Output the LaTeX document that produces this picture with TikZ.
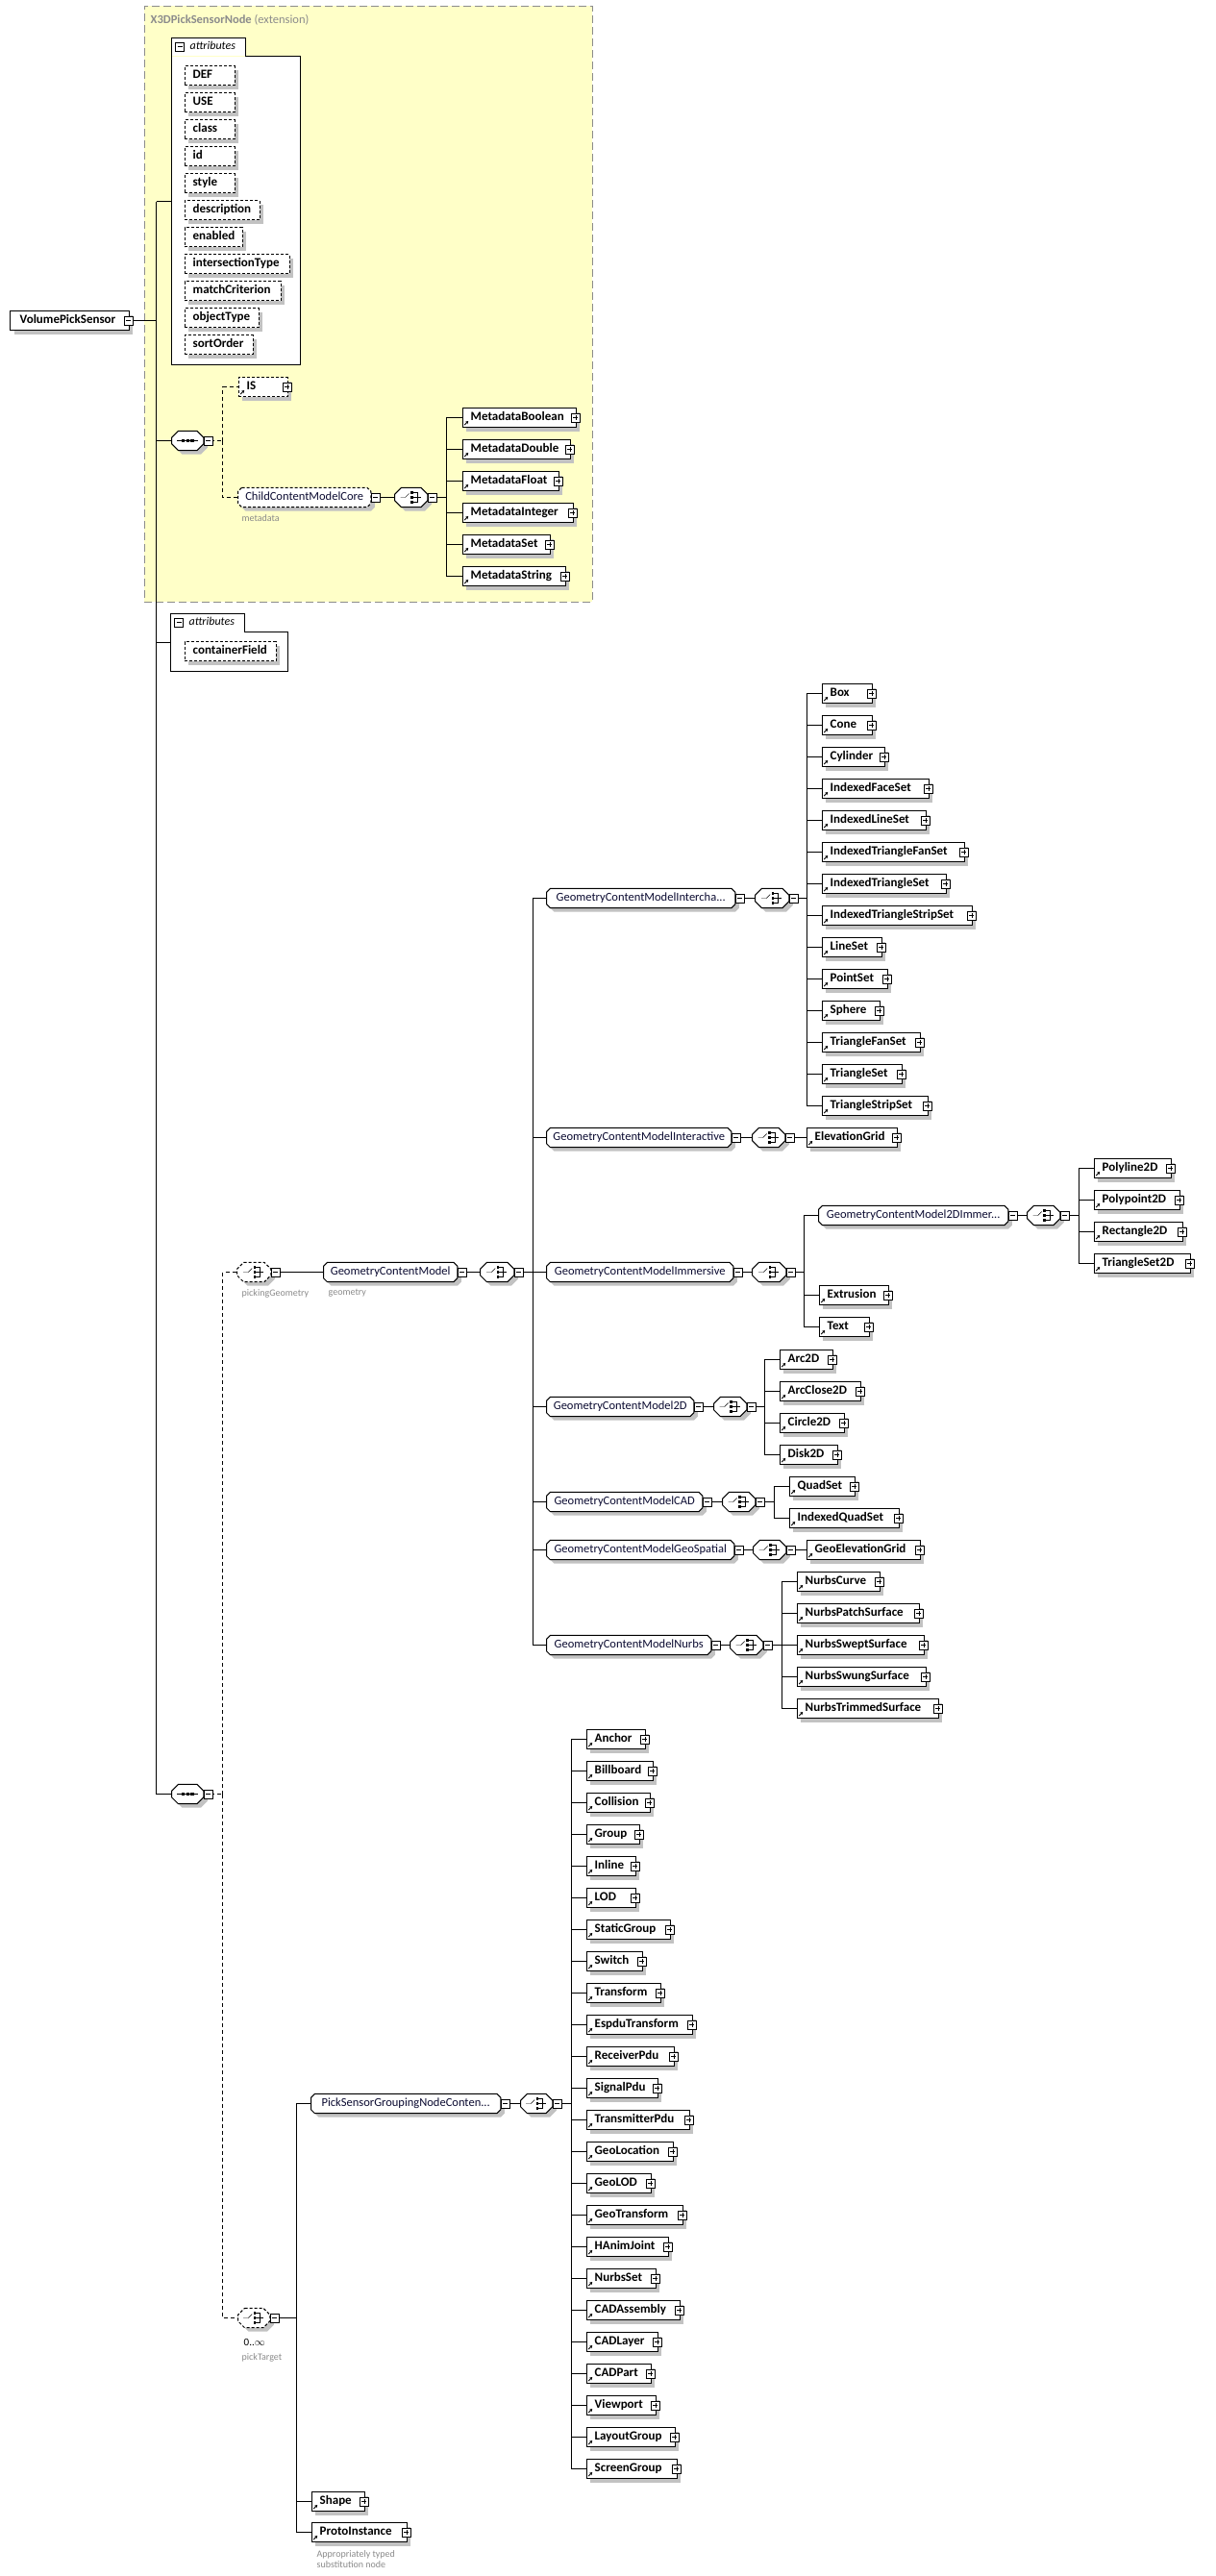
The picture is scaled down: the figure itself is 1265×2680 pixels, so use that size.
\documentclass[tikz,border=0pt]{standalone}
\usepackage{fontspec}
\setmainfont{Carlito}
\usepackage{xcolor}
\usepackage{tikz}
\usetikzlibrary{arrows.meta, positioning, shadows}

\definecolor{extfill}{HTML}{FFFFC8}
\definecolor{extline}{HTML}{8C8C8C}
\definecolor{grptext}{HTML}{0C0C32}
\definecolor{captext}{HTML}{8A8A8A}
\pgfdeclarelayer{back}
\pgfdeclarelayer{wires}
\pgfdeclarelayer{shapes}
\pgfsetlayers{back,wires,shapes,main}
\hyphenpenalty=10000
% octagon round the last node, #1 = corner cut
\newcommand\octpath[1]{([xshift=#1]\tikzlastnode.north west) -- ([xshift=-#1]\tikzlastnode.north east)
  -- ([yshift=-#1]\tikzlastnode.north east) -- ([yshift=#1]\tikzlastnode.south east)
  -- ([xshift=-#1]\tikzlastnode.south east) -- ([xshift=#1]\tikzlastnode.south west)
  -- ([yshift=#1]\tikzlastnode.south west) -- ([yshift=-#1]\tikzlastnode.north west) -- cycle}

\begin{document}
\begin{tikzpicture}[
  x=1pt, y=-1pt, line width=1pt,
  shadowed/.style={drop shadow={shadow xshift=4pt, shadow yshift=-4pt, fill=black!24, opacity=1}},
  pmbox/.style={draw, solid, fill=white, minimum size=9pt, inner sep=0pt, line width=0.8pt},
  plusbox/.style={pmbox, path picture={
    \draw[line width=0.8pt] ([xshift=2pt]path picture bounding box.west) -- ([xshift=-2pt]path picture bounding box.east);
    \draw[line width=0.8pt] ([yshift=-2pt]path picture bounding box.north) -- ([yshift=2pt]path picture bounding box.south);}},
  minusbox/.style={pmbox, path picture={
    \draw[line width=0.8pt] ([xshift=2pt]path picture bounding box.west) -- ([xshift=-2pt]path picture bounding box.east);}},
  boxtext/.style={anchor=west, inner sep=0pt, text width=#1pt, minimum height=20pt,
    text height=9pt, text depth=3pt, align=left},
  elem/.style={boxtext=#1, draw, fill=white, shadowed,
    font=\fontsize{13pt}{15pt}\selectfont\bfseries,
    execute at begin node={\hspace*{9pt}},
    path picture={\draw[solid, -{Stealth[length=3pt, width=3.5pt]}, line width=1pt]
      ([shift={(2.5pt,2.5pt)}]path picture bounding box.south west) -- ++(4pt,4pt);},
    append after command={(\tikzlastnode.east) node[plusbox] {}}},
  optelem/.style={elem=#1, dash pattern=on 3pt off 2pt},
  root/.style={boxtext=#1, draw, fill=white, shadowed,
    font=\fontsize{13pt}{15pt}\selectfont\bfseries,
    execute at begin node={\hspace*{10pt}},
    append after command={(\tikzlastnode.east) node[minusbox] {}}},
  attr/.style={boxtext=#1, draw, dash pattern=on 3pt off 2pt, fill=white, shadowed,
    font=\fontsize{13pt}{15pt}\selectfont\bfseries,
    execute at begin node={\hspace*{9pt}}},
  attrbox/.style={fill=white, anchor=north west, inner sep=0pt},
  attrtab/.style={fill=white, anchor=south west, inner sep=0pt, text width=76pt,
    minimum height=19pt, text height=9pt, text depth=3pt, align=left,
    font=\fontsize{12pt}{14pt}\selectfont\itshape,
    execute at begin node={\hspace*{19pt}},
    path picture={
      \draw[line width=0.8pt] ([shift={(4pt,-4.5pt)}]path picture bounding box.west) rectangle ++(9pt,9pt);
      \draw[line width=0.8pt] ([xshift=6pt]path picture bounding box.west) -- ++(5pt,0pt);}},
  octa/.style n args={3}{append after command={\pgfextra{
      \begin{pgfonlayer}{shapes}
        \fill[black!24, transform canvas={shift={(4pt,-4pt)}}] \octpath{#1};
        \draw[fill=white, line width=1pt, #2] \octpath{#1};
      \end{pgfonlayer}
      #3}
    (\tikzlastnode.east) node[minusbox, anchor=west] {}}},
  grpbase/.style={anchor=west, inner sep=0pt, minimum width=#1pt, minimum height=20pt,
    text height=9pt, text depth=3pt, text=grptext, font=\fontsize{12.5pt}{14pt}\selectfont},
  grp/.style={grpbase=#1, octa={4pt}{solid}{}},
  optgrp/.style={grpbase=#1, octa={4pt}{dash pattern=on 3pt off 2pt}{}},
  compbase/.style={anchor=west, inner sep=0pt, minimum width=#1pt, minimum height=20pt},
  seqbox/.style={compbase=33, octa={7pt}{solid}{\pic at (\tikzlastnode.center) {seqsym};}},
  choicebox/.style={compbase=#1, octa={7pt}{solid}{\pic at (\tikzlastnode.center) {choicesym};}},
  optchoice/.style={compbase=#1, octa={7pt}{dash pattern=on 3pt off 2pt}{\pic at (\tikzlastnode.center) {choicesym};}},
  seqsym/.pic={
    \draw (-11,0) -- (11,0);
    \fill (-6.5,-1.7) rectangle (-3.1,1.7);
    \fill (-1.7,-1.7) rectangle (1.7,1.7);
    \fill (3.1,-1.7) rectangle (6.5,1.7);},
  choicesym/.pic={
    \draw (-11,0) -- (-6,0) -- (-2,-4);
    \fill (-0.5,-6.3) rectangle (2,-3.8);
    \fill (-0.5,-1.25) rectangle (2,1.25);
    \fill (-0.5,3.8) rectangle (2,6.3);
    \draw (2,-5) -- (6,-5) -- (6,5) -- (2,5) (2,0) -- (10,0);},
  caption/.style={anchor=west, inner sep=0pt, text=captext, font=\fontsize{10pt}{11.5pt}\selectfont, align=left},
  extbox/.style={draw=extline, fill=extfill, dash pattern=on 8pt off 4pt, line width=1pt, anchor=north west, inner sep=0pt},
  optline/.style={dash pattern=on 4pt off 3pt}
]
\useasboundingbox (-0.5,-0.5) rectangle (1264.5,2679.5);

% extension frame
\begin{pgfonlayer}{back}
\node[extbox, minimum width=466pt, minimum height=620pt] (ext) at (149,5) {};
\end{pgfonlayer}
\node[anchor=west, inner sep=0pt, text=extline, font=\fontsize{12.5pt}{14pt}\selectfont] (exttitle) at (156,20) {\textbf{X3DPickSensorNode} (extension)};

% root element
\node[root=123] (root) at (10,333) {VolumePickSensor};
\coordinate (t0) at (162,209);
\coordinate (t2) at (162,668);
\coordinate (tb) at (162,1866);

% inherited attributes
\node[attrbox, minimum width=133pt, minimum height=320pt] (attrs) at (178,58) {};
\node[attrtab] (attrstab) at (attrs.north west) {attributes};
\draw (attrs.south west) -- (attrstab.north west) -- (attrstab.north east) -- (attrstab.south east)
  -- (attrs.north east) -- (attrs.south east) -- cycle;
\node[attr=52] (a-def) at (191,78) {DEF};
\node[attr=52] (a-use) at (191,106) {USE};
\node[attr=52] (a-class) at (191,134) {class};
\node[attr=52] (a-id) at (191,162) {id};
\node[attr=52] (a-style) at (191,190) {style};
\node[attr=78] (a-desc) at (191,218) {description};
\node[attr=60] (a-enabled) at (191,246) {enabled};
\node[attr=109] (a-itype) at (191,274) {intersectionType};
\node[attr=100] (a-match) at (191,302) {matchCriterion};
\node[attr=77] (a-otype) at (191,330) {objectType};
\node[attr=71] (a-sort) at (191,358) {sortOrder};

% IS / metadata
\node[seqbox] (seq1) at (178,458) {};
\coordinate (seq1-fk) at (231,458);
\node[optelem=51] (is) at (247,402) {IS};
\node[optgrp=138] (ccm) at (247,517) {ChildContentModelCore};
\node[caption] (ccm-cap) at (251,539) {metadata};
\node[choicebox=34] (ccm-ch) at (410,517) {};
\coordinate (ccm-fk) at (464,517);
\node[elem=118] (m-bool) at (480,434) {MetadataBoolean};
\node[elem=112] (m-double) at (480,467) {MetadataDouble};
\node[elem=100] (m-float) at (480,500) {MetadataFloat};
\node[elem=115] (m-int) at (480,533) {MetadataInteger};
\node[elem=91] (m-set) at (480,566) {MetadataSet};
\node[elem=107] (m-string) at (480,599) {MetadataString};

% own attributes
\node[attrbox, minimum width=121pt, minimum height=40pt] (attrs2) at (177,657) {};
\node[attrtab] (attrs2tab) at (attrs2.north west) {attributes};
\draw (attrs2.south west) -- (attrs2tab.north west) -- (attrs2tab.north east) -- (attrs2tab.south east)
  -- (attrs2.north east) -- (attrs2.south east) -- cycle;
\node[attr=95] (a-cfield) at (191,677) {containerField};

% pickingGeometry
\node[seqbox] (seq2) at (178,1866) {};
\coordinate (seq2-fk) at (231,1866);
\node[optchoice=35] (pgeo) at (246,1323) {};
\node[caption] (pgeo-cap) at (251,1345) {pickingGeometry};
\node[grp=139] (gcm) at (336,1323) {GeometryContentModel};
\node[caption] (gcm-cap) at (341,1345) {geometry};
\node[choicebox=35] (gcm-ch) at (499,1323) {};
\coordinate (gcm-fk) at (554,1323);

\node[grp=196] (g-ich) at (568,934) {GeometryContentModelIntercha...};
\node[choicebox=35] (ich-ch) at (785,934) {};
\coordinate (ich-fk) at (839,934);
\node[elem=52] (box) at (854,721) {Box};
\node[elem=52] (cone) at (854,754) {Cone};
\node[elem=65] (cylinder) at (854,787) {Cylinder};
\node[elem=111] (ifs) at (854,820) {IndexedFaceSet};
\node[elem=108] (ils) at (854,853) {IndexedLineSet};
\node[elem=148] (itfs) at (854,886) {IndexedTriangleFanSet};
\node[elem=129] (its) at (854,919) {IndexedTriangleSet};
\node[elem=156] (itss) at (854,952) {IndexedTriangleStripSet};
\node[elem=62] (lineset) at (854,985) {LineSet};
\node[elem=68] (pointset) at (854,1018) {PointSet};
\node[elem=60] (sphere) at (854,1051) {Sphere};
\node[elem=102] (tfs) at (854,1084) {TriangleFanSet};
\node[elem=83] (ts) at (854,1117) {TriangleSet};
\node[elem=110] (tss) at (854,1150) {TriangleStripSet};

\node[grp=192] (g-iact) at (568,1183) {GeometryContentModelInteractive};
\node[choicebox=34] (iact-ch) at (782,1183) {};
\node[elem=94] (elevgrid) at (838,1183) {ElevationGrid};

\node[grp=194] (g-imm) at (568,1323) {GeometryContentModelImmersive};
\node[choicebox=35] (imm-ch) at (782,1323) {};
\coordinate (imm-fk) at (836,1323);
\node[grp=197] (g-2dimm) at (851,1264) {GeometryContentModel2DImmer...};
\node[choicebox=34] (2dimm-ch) at (1068,1264) {};
\coordinate (2dimm-fk) at (1122,1264);
\node[elem=80] (polyline) at (1137,1215) {Polyline2D};
\node[elem=89] (polypoint) at (1137,1248) {Polypoint2D};
\node[elem=92] (rect2d) at (1137,1281) {Rectangle2D};
\node[elem=100] (ts2d) at (1137,1314) {TriangleSet2D};
\node[elem=72] (extrusion) at (851,1347) {Extrusion};
\node[elem=52] (textn) at (851,1380) {Text};

\node[grp=153] (g-2d) at (568,1463) {GeometryContentModel2D};
\node[choicebox=34] (2d-ch) at (742,1463) {};
\coordinate (2d-fk) at (795,1463);
\node[elem=55] (arc2d) at (810,1414) {Arc2D};
\node[elem=84] (arcclose) at (810,1447) {ArcClose2D};
\node[elem=67] (circle2d) at (810,1480) {Circle2D};
\node[elem=60] (disk2d) at (810,1513) {Disk2D};

\node[grp=162] (g-cad) at (568,1562) {GeometryContentModelCAD};
\node[choicebox=34] (cad-ch) at (751,1562) {};
\coordinate (cad-fk) at (805,1562);
\node[elem=68] (quadset) at (820,1546) {QuadSet};
\node[elem=114] (iquadset) at (820,1579) {IndexedQuadSet};

\node[grp=195] (g-geo) at (568,1612) {GeometryContentModelGeoSpatial};
\node[choicebox=34] (geo-ch) at (783,1612) {};
\node[elem=118] (geoelev) at (838,1612) {GeoElevationGrid};

\node[grp=171] (g-nurbs) at (568,1711) {GeometryContentModelNurbs};
\node[choicebox=34] (nurbs-ch) at (759,1711) {};
\coordinate (nurbs-fk) at (813,1711);
\node[elem=86] (ncurve) at (828,1645) {NurbsCurve};
\node[elem=127] (npatch) at (828,1678) {NurbsPatchSurface};
\node[elem=132] (nswept) at (828,1711) {NurbsSweptSurface};
\node[elem=134] (nswung) at (828,1744) {NurbsSwungSurface};
\node[elem=147] (ntrim) at (828,1777) {NurbsTrimmedSurface};

% pickTarget
\node[optchoice=33] (ptarget) at (247,2411) {};
\node[anchor=west, inner sep=0pt, font=\fontsize{11pt}{12pt}\selectfont] (ptarget-occ) at (253,2436) {0..$\infty$};
\node[caption] (ptarget-cap) at (251,2452) {pickTarget};
\coordinate (pt-fk) at (308,2411);
\node[grp=197] (g-psg) at (323,2188) {PickSensorGroupingNodeConten...};
\node[choicebox=33] (psg-ch) at (541,2188) {};
\coordinate (psg-fk) at (594,2188);
\node[elem=61] (anchor) at (609,1809) {Anchor};
\node[elem=69] (billboard) at (609,1842) {Billboard};
\node[elem=66] (collision) at (609,1875) {Collision};
\node[elem=55] (group) at (609,1908) {Group};
\node[elem=51] (inline) at (609,1941) {Inline};
\node[elem=51] (lod) at (609,1974) {LOD};
\node[elem=87] (staticgroup) at (609,2007) {StaticGroup};
\node[elem=58] (switch) at (609,2040) {Switch};
\node[elem=77] (transform) at (609,2073) {Transform};
\node[elem=110] (espdu) at (609,2106) {EspduTransform};
\node[elem=91] (receiver) at (609,2139) {ReceiverPdu};
\node[elem=74] (signal) at (609,2172) {SignalPdu};
\node[elem=107] (transmitter) at (609,2205) {TransmitterPdu};
\node[elem=90] (geolocation) at (609,2238) {GeoLocation};
\node[elem=67] (geolod) at (609,2271) {GeoLOD};
\node[elem=100] (geotransform) at (609,2304) {GeoTransform};
\node[elem=85] (hanimjoint) at (609,2337) {HAnimJoint};
\node[elem=72] (nurbsset) at (609,2370) {NurbsSet};
\node[elem=97] (cadassembly) at (609,2403) {CADAssembly};
\node[elem=74] (cadlayer) at (609,2436) {CADLayer};
\node[elem=67] (cadpart) at (609,2469) {CADPart};
\node[elem=72] (viewport) at (609,2502) {Viewport};
\node[elem=92] (layoutgroup) at (609,2535) {LayoutGroup};
\node[elem=94] (screengroup) at (609,2568) {ScreenGroup};
\node[elem=55] (shape) at (323,2602) {Shape};
\node[elem=99] (proto) at (323,2634) {ProtoInstance};
\node[caption] (proto-cap) at (329,2662) {Appropriately typed\\substitution node};

% connectors
\begin{pgfonlayer}{wires}
\draw (root) -- (root -| t0);
\draw (t0) -- (tb);
\draw (t0) -- (t0 -| attrs.west);
\draw (t2) -- (t2 -| attrs2.west);
\draw (seq1 -| t0) -- (seq1);
\draw (tb) -- (seq2);

\draw[optline] (seq1) -- (seq1-fk);
\draw[optline] (seq1-fk) |- (is) (seq1-fk) |- (ccm);
\draw (ccm) -- (ccm-ch);
\draw (ccm-ch) -- (ccm-fk);
\draw (ccm-fk) |- (m-bool) (ccm-fk) |- (m-double) (ccm-fk) |- (m-float)
  (ccm-fk) |- (m-int) (ccm-fk) |- (m-set) (ccm-fk) |- (m-string);

\draw[optline] (seq2) -- (seq2-fk);
\draw[optline] (seq2-fk) |- (pgeo) (seq2-fk) |- (ptarget);
\draw (pgeo) -- (gcm);
\draw (gcm) -- (gcm-ch);
\draw (gcm-ch) -- (gcm-fk);
\draw (gcm-fk) |- (g-ich) (gcm-fk) |- (g-iact) (gcm-fk) |- (g-imm) (gcm-fk) |- (g-2d)
  (gcm-fk) |- (g-cad) (gcm-fk) |- (g-geo) (gcm-fk) |- (g-nurbs);

\draw (g-ich) -- (ich-ch);
\draw (ich-ch) -- (ich-fk);
\draw (ich-fk) |- (box) (ich-fk) |- (cone) (ich-fk) |- (cylinder) (ich-fk) |- (ifs)
  (ich-fk) |- (ils) (ich-fk) |- (itfs) (ich-fk) |- (its) (ich-fk) |- (itss)
  (ich-fk) |- (lineset) (ich-fk) |- (pointset) (ich-fk) |- (sphere) (ich-fk) |- (tfs)
  (ich-fk) |- (ts) (ich-fk) |- (tss);

\draw (g-iact) -- (iact-ch);
\draw (iact-ch) -- (elevgrid);

\draw (g-imm) -- (imm-ch);
\draw (imm-ch) -- (imm-fk);
\draw (imm-fk) |- (g-2dimm) (imm-fk) |- (extrusion) (imm-fk) |- (textn);
\draw (g-2dimm) -- (2dimm-ch);
\draw (2dimm-ch) -- (2dimm-fk);
\draw (2dimm-fk) |- (polyline) (2dimm-fk) |- (polypoint) (2dimm-fk) |- (rect2d) (2dimm-fk) |- (ts2d);

\draw (g-2d) -- (2d-ch);
\draw (2d-ch) -- (2d-fk);
\draw (2d-fk) |- (arc2d) (2d-fk) |- (arcclose) (2d-fk) |- (circle2d) (2d-fk) |- (disk2d);

\draw (g-cad) -- (cad-ch);
\draw (cad-ch) -- (cad-fk);
\draw (cad-fk) |- (quadset) (cad-fk) |- (iquadset);

\draw (g-geo) -- (geo-ch);
\draw (geo-ch) -- (geoelev);

\draw (g-nurbs) -- (nurbs-ch);
\draw (nurbs-ch) -- (nurbs-fk);
\draw (nurbs-fk) |- (ncurve) (nurbs-fk) |- (npatch) (nurbs-fk) |- (nswept)
  (nurbs-fk) |- (nswung) (nurbs-fk) |- (ntrim);

\draw (ptarget) -- (pt-fk);
\draw (pt-fk) |- (g-psg) (pt-fk) |- (shape) (pt-fk) |- (proto);
\draw (g-psg) -- (psg-ch);
\draw (psg-ch) -- (psg-fk);
\draw (psg-fk) |- (anchor) (psg-fk) |- (billboard) (psg-fk) |- (collision) (psg-fk) |- (group)
  (psg-fk) |- (inline) (psg-fk) |- (lod) (psg-fk) |- (staticgroup) (psg-fk) |- (switch)
  (psg-fk) |- (transform) (psg-fk) |- (espdu) (psg-fk) |- (receiver) (psg-fk) |- (signal)
  (psg-fk) |- (transmitter) (psg-fk) |- (geolocation) (psg-fk) |- (geolod) (psg-fk) |- (geotransform)
  (psg-fk) |- (hanimjoint) (psg-fk) |- (nurbsset) (psg-fk) |- (cadassembly) (psg-fk) |- (cadlayer)
  (psg-fk) |- (cadpart) (psg-fk) |- (viewport) (psg-fk) |- (layoutgroup) (psg-fk) |- (screengroup);
\end{pgfonlayer}
\end{tikzpicture}
\end{document}
